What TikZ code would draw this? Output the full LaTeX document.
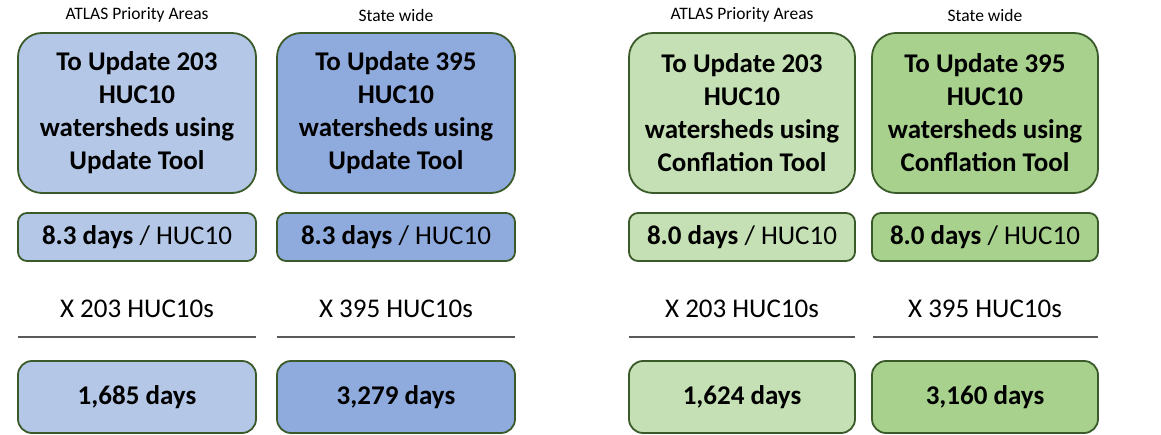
\documentclass[tikz,border=0pt]{standalone}
\usepackage{fontspec}
\setmainfont{Carlito}
\definecolor{bordergreen}{HTML}{3B5A2A}
\definecolor{blueA}{HTML}{B4C7E7}
\definecolor{blueB}{HTML}{8FAADC}
\definecolor{greenA}{HTML}{C5E0B4}
\definecolor{greenB}{HTML}{A9D18E}
\definecolor{sepgray}{HTML}{595959}
\tikzset{
  bigbox/.style={draw=bordergreen, line width=1.8pt, rounded corners=24pt, minimum height=160pt, align=center, font=\fontsize{27}{33}\selectfont\bfseries, inner sep=0pt},
  ratebox/.style={draw=bordergreen, line width=1.8pt, rounded corners=9pt, minimum height=48pt, align=center, font=\fontsize{27}{31}\selectfont, inner sep=0pt},
  totalbox/.style={draw=bordergreen, line width=1.8pt, rounded corners=14pt, minimum height=72pt, align=center, font=\fontsize{27}{31}\selectfont\bfseries, inner sep=0pt},
  headlbl/.style={font=\fontsize{17.5}{20}\selectfont, inner sep=0pt},
  multlbl/.style={font=\fontsize{27}{31}\selectfont, inner sep=0pt},
  sepline/.style={draw=sepgray, line width=1.6pt}
}
\begin{document}
\begin{tikzpicture}[x=1pt,y=-1pt]
\useasboundingbox (0,0) rectangle (1161,435);
% column 1
\node[headlbl] (h1) at (137,15) {ATLAS Priority Areas};
\node[bigbox, fill=blueA, minimum width=238pt] (b1) at (137,113) {To Update 203\\HUC10\\watersheds using\\Update Tool};
\node[ratebox, fill=blueA, minimum width=238pt] (r1) at (137,237) {\textbf{8.3 days} / HUC10};
\node[multlbl] (m1) at (137,309) {X 203 HUC10s};
\coordinate (l1a) at (18,337); \coordinate (l1b) at (256,337);
\draw[sepline] (l1a) -- (l1b);
\node[totalbox, fill=blueA, minimum width=238pt] (t1) at (137,397) {1,685 days};
% column 2
\node[headlbl] (h2) at (396,15) {State wide};
\node[bigbox, fill=blueB, minimum width=238pt] (b2) at (396,113) {To Update 395\\HUC10\\watersheds using\\Update Tool};
\node[ratebox, fill=blueB, minimum width=238pt] (r2) at (396,237) {\textbf{8.3 days} / HUC10};
\node[multlbl] (m2) at (396,309) {X 395 HUC10s};
\coordinate (l2a) at (277,337); \coordinate (l2b) at (515,337);
\draw[sepline] (l2a) -- (l2b);
\node[totalbox, fill=blueB, minimum width=238pt] (t2) at (396,397) {3,279 days};
% column 3
\node[headlbl] (h3) at (742,15) {ATLAS Priority Areas};
\node[bigbox, fill=greenA, minimum width=226pt] (b3) at (742,113) {To Update 203\\HUC10\\watersheds using\\Conflation Tool};
\node[ratebox, fill=greenA, minimum width=226pt] (r3) at (742,237) {\textbf{8.0 days} / HUC10};
\node[multlbl] (m3) at (742,309) {X 203 HUC10s};
\coordinate (l3a) at (629,337); \coordinate (l3b) at (855,337);
\draw[sepline] (l3a) -- (l3b);
\node[totalbox, fill=greenA, minimum width=226pt] (t3) at (742,397) {1,624 days};
% column 4
\node[headlbl] (h4) at (985,15) {State wide};
\node[bigbox, fill=greenB, minimum width=226pt] (b4) at (985,113) {To Update 395\\HUC10\\watersheds using\\Conflation Tool};
\node[ratebox, fill=greenB, minimum width=226pt] (r4) at (985,237) {\textbf{8.0 days} / HUC10};
\node[multlbl] (m4) at (985,309) {X 395 HUC10s};
\coordinate (l4a) at (873,337); \coordinate (l4b) at (1098,337);
\draw[sepline] (l4a) -- (l4b);
\node[totalbox, fill=greenB, minimum width=226pt] (t4) at (985,397) {3,160 days};
\end{tikzpicture}
\end{document}
